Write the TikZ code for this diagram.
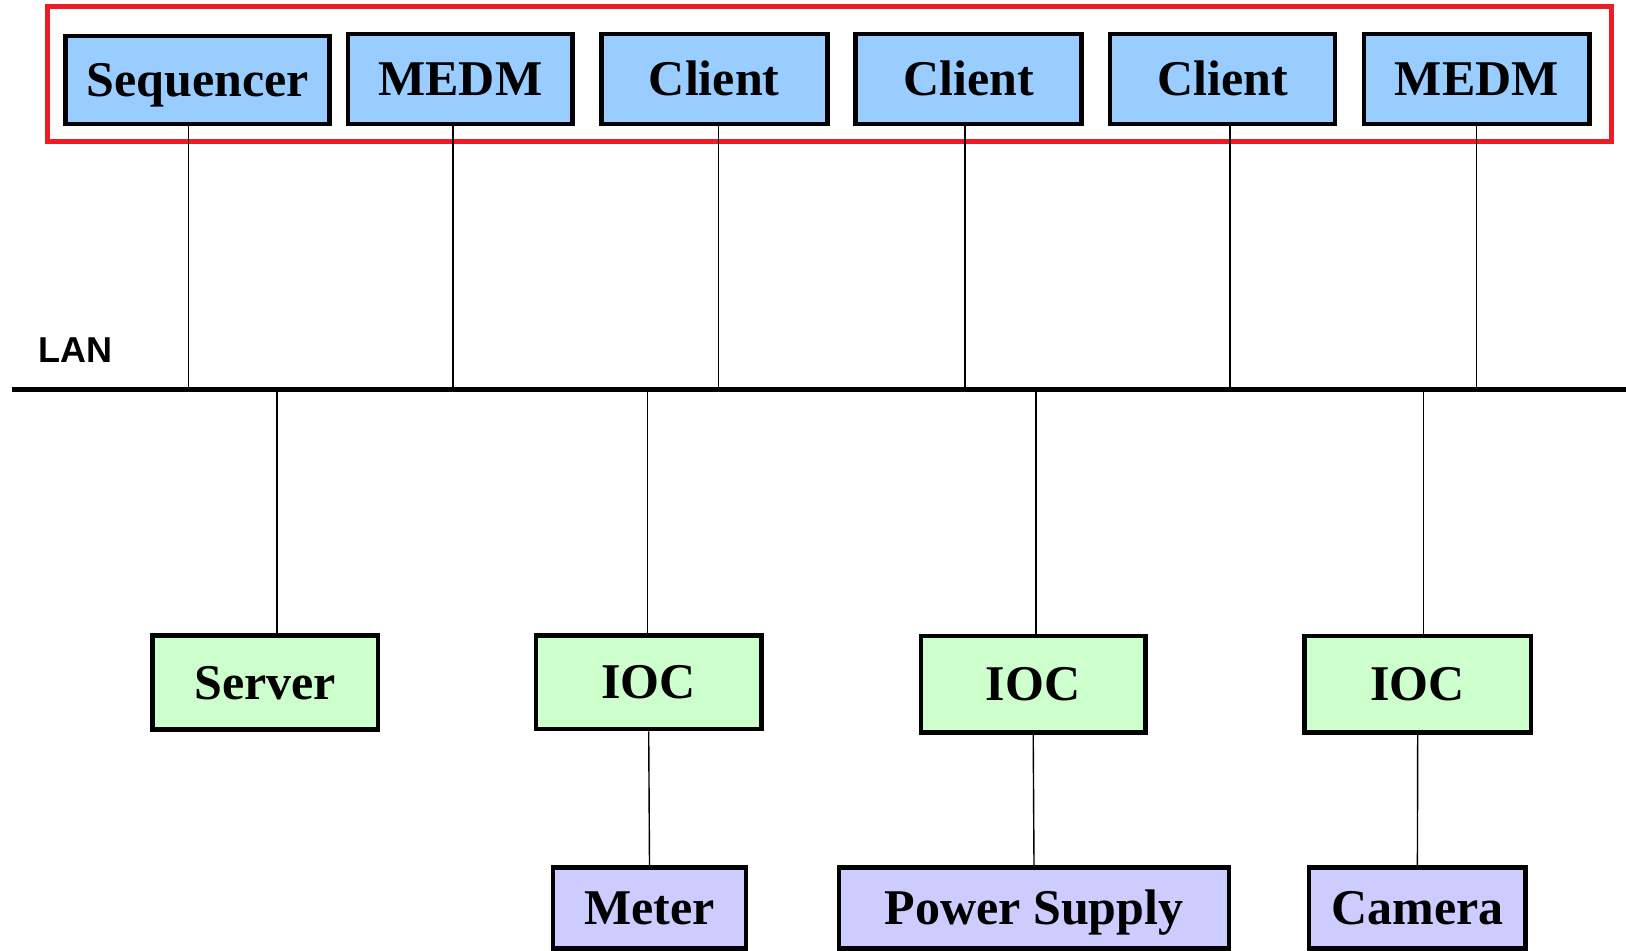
\documentclass[tikz,border=0pt]{standalone}
\usepackage{fontspec}
\setmainfont{Liberation Serif}
\newfontfamily\lanfont{Liberation Sans}
\definecolor{topblue}{HTML}{99CCFF}
\definecolor{iocgreen}{HTML}{CCFFCC}
\definecolor{devpurple}{HTML}{CCCCFF}
\definecolor{grpred}{HTML}{ED1C24}
\begin{document}
\begin{tikzpicture}[x=0.5pt,y=-0.5pt,
  box/.style={draw=black, line width=2.35pt, inner sep=0pt,
    font=\fontsize{25}{30}\selectfont\bfseries, text height=16.5pt, text depth=0pt},
  topbox/.style={box, fill=topblue, minimum height=45pt},
  iocbox/.style={box, fill=iocgreen},
  devbox/.style={box, fill=devpurple, minimum height=40.5pt},
  wire/.style={line width=0.7pt},
  lanbar/.style={line width=2.9pt},
  group/.style={draw=grpred, line width=2.5pt, inner sep=0pt}]
\useasboundingbox (0,0) rectangle (1626,951);

% group frame
\node[group, minimum width=781.85pt, minimum height=67.5pt] (grp) at (829.65,74.2) {};

% top boxes
\node[topbox, minimum width=132pt, minimum height=44pt] (seq) at (197.5,80) {Sequencer};
\node[topbox, minimum width=112.25pt] (medmA) at (460.3,79) {MEDM};
\node[topbox, minimum width=113pt] (cliA) at (714.2,79) {Client};
\node[topbox, minimum width=113pt] (cliB) at (968.8,79) {Client};
\node[topbox, minimum width=112.5pt] (cliC) at (1222.5,79) {Client};
\node[topbox, minimum width=112.75pt] (medmB) at (1476.7,79) {MEDM};

% LAN
\coordinate (lanL) at (12.2,389.5);
\coordinate (lanR) at (1626,389.5);
\draw[lanbar] (lanL) -- (lanR);
\node[anchor=base west, inner sep=0pt, font=\lanfont\fontsize{18}{22}\selectfont\bfseries] (lan) at (38.3,362.7) {LAN};

% bottom boxes
\node[iocbox, minimum width=112.85pt, minimum height=46.7pt] (srv) at (265.2,682.5) {Server};
\node[iocbox, minimum width=112.7pt, minimum height=46.6pt] (iocA) at (648.7,682.4) {IOC};
\node[iocbox, minimum width=112.2pt, minimum height=48.35pt] (iocB) at (1033.2,684.2) {IOC};
\node[iocbox, minimum width=113.35pt, minimum height=48.35pt] (iocC) at (1417.7,684.2) {IOC};

\node[devbox, minimum width=96.5pt] (meter) at (649.5,908) {Meter};
\node[devbox, minimum width=195pt] (psu) at (1034,908) {Power Supply};
\node[devbox, minimum width=108.4pt] (cam) at (1417.4,908) {Camera};

% connectors top -> LAN
\draw[wire] ([xshift=-4.4pt]seq.south) -- ([xshift=-4.4pt]seq.south |- lanL);
\draw[wire] ([xshift=-3.6pt]medmA.south) -- ([xshift=-3.6pt]medmA.south |- lanL);
\draw[wire] ([xshift=2pt]cliA.south) -- ([xshift=2pt]cliA.south |- lanL);
\draw[wire] ([xshift=-1.9pt]cliB.south) -- ([xshift=-1.9pt]cliB.south |- lanL);
\draw[wire] ([xshift=3.75pt]cliC.south) -- ([xshift=3.75pt]cliC.south |- lanL);
\draw[wire] (medmB.south) -- (medmB.south |- lanL);

% connectors LAN -> bottom
\draw[wire] ([xshift=5.8pt]srv.north |- lanL) -- ([xshift=5.8pt]srv.north);
\draw[wire] ([xshift=-0.7pt]iocA.north |- lanL) -- ([xshift=-0.7pt]iocA.north);
\draw[wire] ([xshift=1.4pt]iocB.north |- lanL) -- ([xshift=1.4pt]iocB.north);
\draw[wire] ([xshift=2.9pt]iocC.north |- lanL) -- ([xshift=2.9pt]iocC.north);

% IOC -> devices
\draw[wire] (iocA.south) -- (meter.north);
\draw[wire] (iocB.south) -- (psu.north);
\draw[wire] (iocC.south) -- (cam.north);
\end{tikzpicture}
\end{document}
